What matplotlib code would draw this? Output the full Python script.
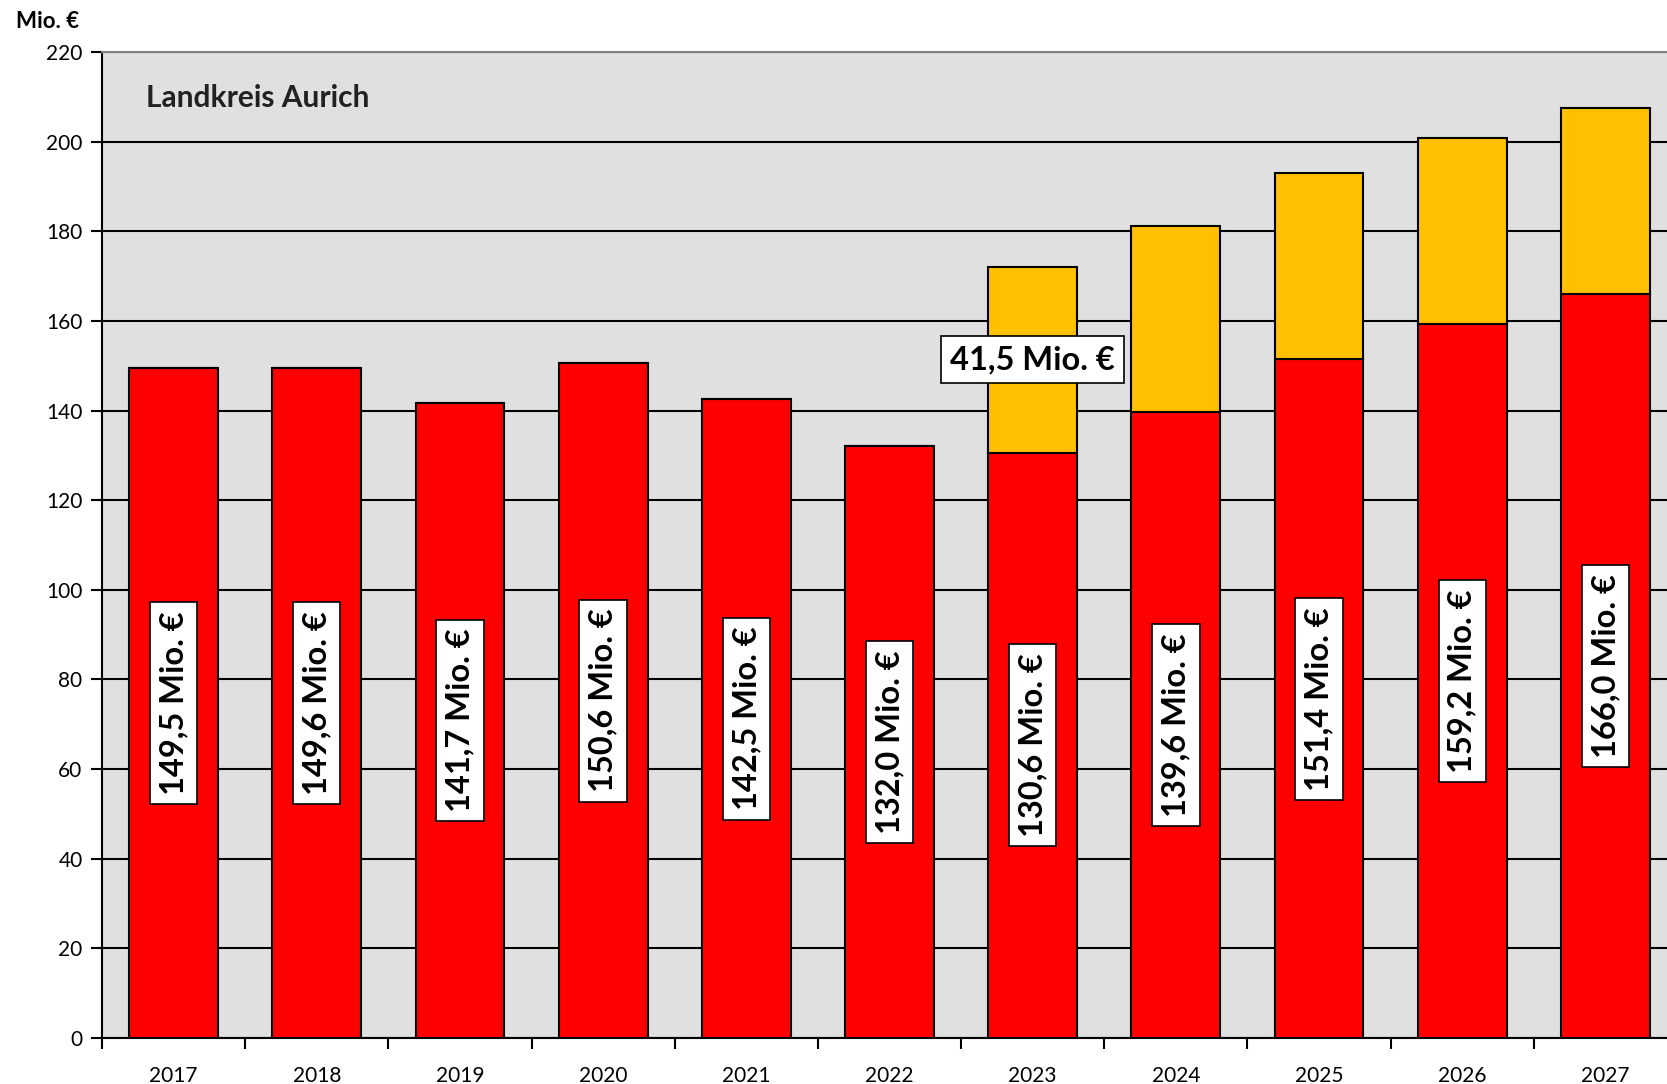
import numpy as np
import matplotlib
matplotlib.use("Agg")
import matplotlib.pyplot as plt

plt.rcParams['font.family'] = ['Lato', 'DejaVu Sans']

years = ['2017', '2018', '2019', '2020', '2021', '2022', '2023', '2024', '2025', '2026', '2027']
base = [149.5, 149.6, 141.7, 150.6, 142.5, 132.0, 130.6, 139.6, 151.4, 159.2, 166.0]
extra = [0, 0, 0, 0, 0, 0, 41.5, 41.5, 41.5, 41.5, 41.5]
extra_label_year = '2023'

fig = plt.figure(figsize=(16.67, 10.84), dpi=100)
# plot area runs past the right edge of the picture, as in the original
ax = fig.add_axes([102/1667, 1-1038/1084, 1575/1667, (1038-52)/1084])
ax.set_facecolor('#E0E0E0')

x = np.arange(len(years))
w = 0.62
ax.bar(x, base, w, color='#FF0000', edgecolor='black', linewidth=1.5, zorder=3)
ax.bar(x, extra, w, bottom=base, color='#FFC000', edgecolor='black', linewidth=1.5, zorder=3)

box = dict(boxstyle='square,pad=0.28', fc='white', ec='black', lw=1.2)
for i, v in enumerate(base):
    ax.text(i, v/2, f"{v:.1f}".replace('.', ',') + " Mio. €", rotation=90,
            ha='center', va='center', fontsize=23.5, fontweight='bold', zorder=5, bbox=box)

i = years.index(extra_label_year)
ax.text(i, base[i] + extra[i]/2, f"{extra[i]:.1f}".replace('.', ',') + " Mio. €",
        ha='center', va='center', fontsize=23.5, fontweight='bold', zorder=5, bbox=box)

ax.set_ylim(0, 220)
ax.set_xlim(-0.5, len(years) - 0.5)
ax.set_yticks(np.arange(0, 221, 20))
ax.yaxis.grid(True, color='black', linewidth=1.5, zorder=0)
ax.set_axisbelow(True)

ax.set_xticks(x)
ax.set_xticklabels(years, fontsize=15)
ax.set_xticks(np.arange(-0.5, len(years), 1), minor=True)
ax.tick_params(axis='x', which='major', length=0, pad=20)
ax.tick_params(axis='x', which='minor', length=8, width=1.5, color='black')
ax.tick_params(axis='y', length=8, width=1.5, labelsize=15, pad=6)

for s in ['left', 'bottom']:
    ax.spines[s].set_color('black')
    ax.spines[s].set_linewidth(1.5)
ax.spines['top'].set_color('#808080')
ax.spines['top'].set_linewidth(1.5)
ax.spines['right'].set_visible(False)

ax.text(0.028, 0.953, 'Landkreis Aurich', transform=ax.transAxes, fontsize=21.5,
        fontweight='bold', color='#222222', ha='left', va='center')
fig.text(16/1667, 1-21/1084, 'Mio. €', fontsize=16, fontweight='bold', ha='left', va='center')

fig.savefig('out.png', dpi=100, facecolor='white')
